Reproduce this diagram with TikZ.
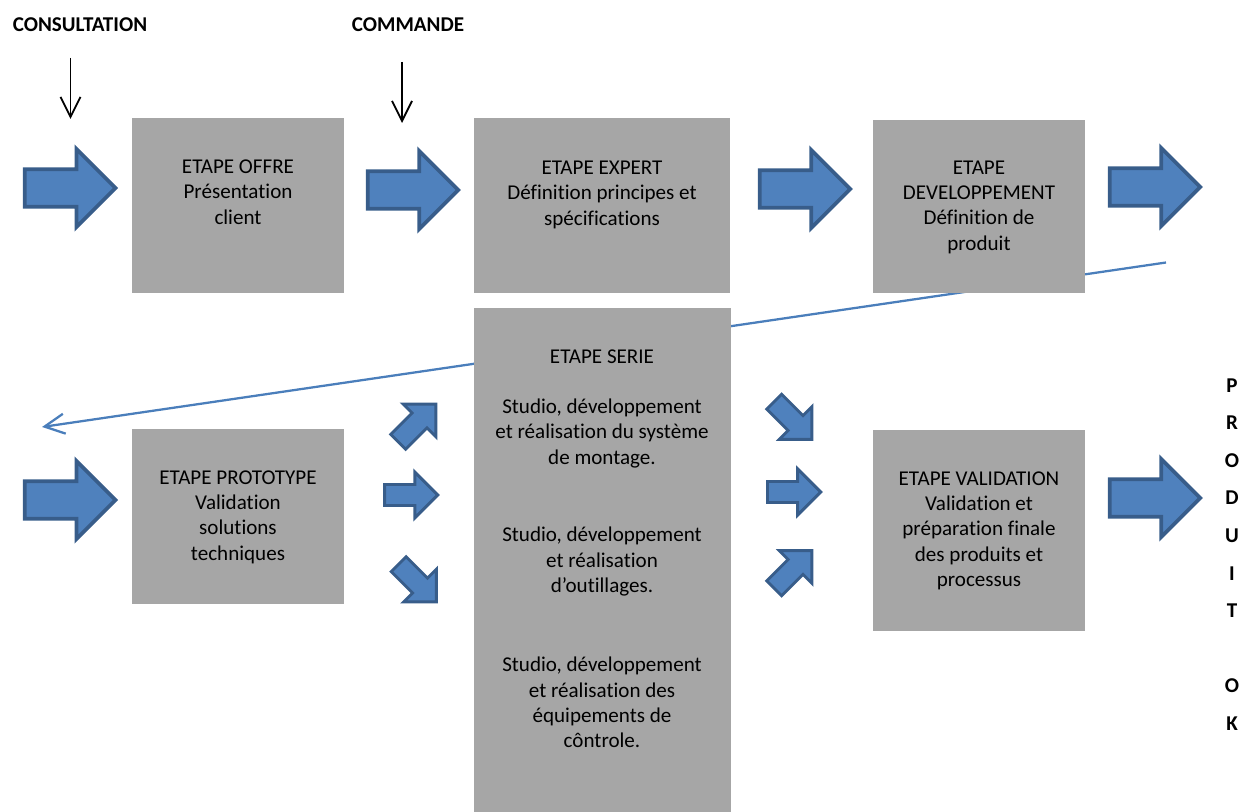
\documentclass[tikz,border=0pt]{standalone}
\usepackage{fontspec}
\setmainfont{Carlito}[Ligatures={NoCommon}]
\usetikzlibrary{arrows.meta,fit}
\definecolor{boxgray}{HTML}{A6A6A6}
\definecolor{afill}{HTML}{4F81BD}
\definecolor{aline}{HTML}{385D8A}
\definecolor{fbline}{HTML}{4A7EBB}
\newcommand{\topst}{\rule{0pt}{14pt}}
% [style] cx cy angle halflen headlen headhalf shafthalf
\newcommand{\blockarrow}[8][barrow]{%
  \draw[#1, shift={(#2,#3)}, rotate=#4]
    (-#5,-#8) -- (#5-#6,-#8) -- (#5-#6,-#7) -- (#5,0) -- (#5-#6,#7) -- (#5-#6,#8) -- (-#5,#8) -- cycle;}
\begin{document}
\begin{tikzpicture}[x=0.75pt,y=-0.75pt,
  box/.style={fill=boxgray, draw=none, inner sep=0pt},
  txt/.style={anchor=north, align=center, inner sep=0pt, font=\fontsize{15.8}{19}\selectfont},
  lbl/.style={anchor=north, align=center, inner sep=0pt, font=\fontsize{15.8}{19}\selectfont\bfseries},
  vlbl/.style={anchor=north, align=center, inner sep=0pt, font=\fontsize{15.8}{28.2}\selectfont\bfseries},
  barrow/.style={fill=afill, draw=aline, line width=2.8pt, line join=miter},
  sarrow/.style={fill=afill, draw=aline, line width=2.2pt, line join=miter},
  thin/.style={-{Straight Barb[length=15pt,width=15pt]}, line width=1.4pt},
  feedback/.style={-{Straight Barb[length=15pt,width=15pt]}, draw=fbline, line width=1.7pt}]
\useasboundingbox (0,0) rectangle (1252,812);

% feedback line (behind boxes)
\coordinate (fbS) at (1166,262.5);
\coordinate (fbE) at (42,427);
\draw[feedback] (fbS) -- (fbE);

% boxes
\node[box, fit={(132,118) (344,293)}] (offre) {};
\node[box, fit={(474,118) (730,293)}] (expert) {};
\node[box, fit={(873,120) (1085,293)}] (dev) {};
\node[box, fit={(132,429) (344,604)}] (proto) {};
\node[box, fit={(474,308) (731,812)}] (serie) {};
\node[box, fit={(873,430) (1085,631)}] (valid) {};

% texts
\node[txt] (toffre) at (238,154.6) {\topst ETAPE OFFRE\\Présentation\\client};
\node[txt] (texpert) at (602,155.6) {\topst ETAPE EXPERT\\Définition principes et\\spécifications};
\node[txt] (tdev) at (979,155.3) {\topst ETAPE\\DEVELOPPEMENT\\Définition de\\produit};
\node[txt] (tproto) at (238,465.3) {\topst ETAPE PROTOTYPE\\Validation\\solutions\\techniques};
\node[txt] (tserie) at (602,344.6) {\topst ETAPE SERIE};
\node[txt] (ts1) at (602,394.6) {\topst Studio, développement\\et réalisation du système\\de montage.};
\node[txt] (ts2) at (602,523) {\topst Studio, développement\\et réalisation\\d’outillages.};
\node[txt] (ts3) at (602,653) {\topst Studio, développement\\et réalisation des\\équipements de\\côntrole.};
\node[txt] (tvalid) at (979,466.3) {\topst ETAPE VALIDATION\\Validation et\\préparation finale\\des produits et\\processus};

% top labels and their arrows
\node[lbl] (consult) at (80,12.3) {\topst CONSULTATION};
\node[lbl] (commande) at (408,12.3) {\topst COMMANDE};
\coordinate (c1s) at (70.5,58);
\coordinate (c1e) at (70.5,119);
\coordinate (c2s) at (402,62);
\coordinate (c2e) at (402,123);
\draw[thin] (c1s) -- (c1e);
\draw[thin] (c2s) -- (c2e);

% PRODUIT OK
\node[vlbl] (produit) at (1232,373.1) {\topst P\\R\\O\\D\\U\\I\\T\\\mbox{}\\O\\K};

% big block arrows
\blockarrow{70.1}{188}{0}{45.3}{39}{39}{18.8}
\blockarrow{413}{190}{0}{45.3}{39}{39}{18.8}
\blockarrow{805}{189}{0}{45.3}{39}{39}{18.8}
\blockarrow{1155}{187}{0}{45.3}{39}{39}{18.8}
\blockarrow{70.1}{500}{0}{45.3}{39}{39}{18.8}
\blockarrow{1155}{498}{0}{45.3}{39}{39}{18.8}

% small block arrows
\blockarrow[sarrow]{417}{423}{45}{26.6}{23}{23}{10.5}
\blockarrow[sarrow]{411.2}{495}{0}{26.6}{23}{23}{10.5}
\blockarrow[sarrow]{417.5}{583}{-45}{26.6}{23}{23}{10.5}
\blockarrow[sarrow]{793}{420.5}{-45}{26.6}{23}{23}{10.5}
\blockarrow[sarrow]{794.1}{492}{0}{26.6}{23}{23}{10.5}
\blockarrow[sarrow]{793}{569.5}{45}{26.6}{23}{23}{10.5}
\end{tikzpicture}
\end{document}
